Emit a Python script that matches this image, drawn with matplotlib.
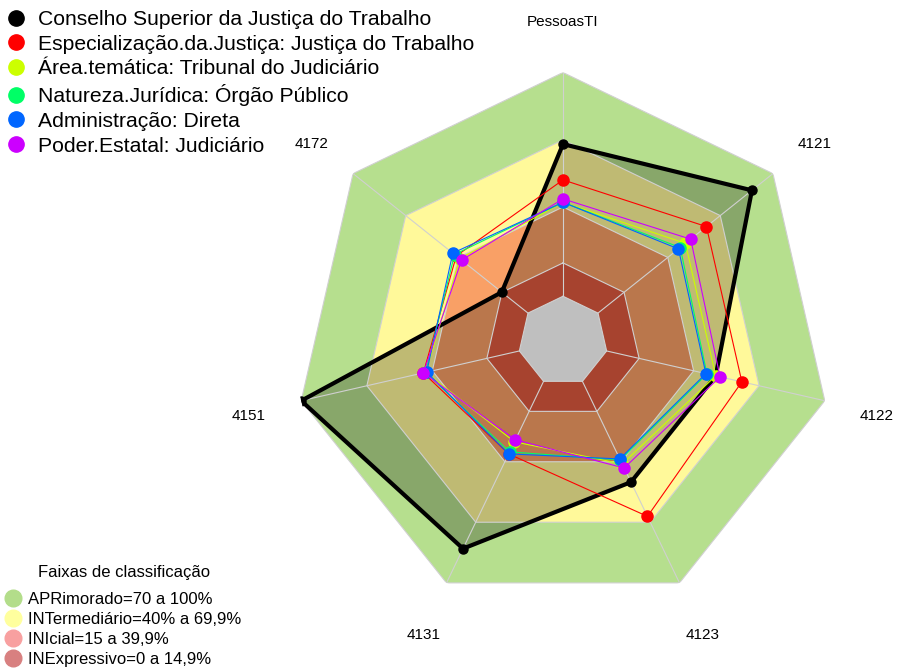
import numpy as np
import matplotlib
matplotlib.use("Agg")
from matplotlib import pyplot as plt
from matplotlib import transforms
from matplotlib.lines import Line2D

plt.rcParams["font.family"] = ["Liberation Sans", "DejaVu Sans"]

# eixos do radar, no sentido horario a partir do topo
eixos = ["PessoasTI", "4121", "4122", "4123", "4131", "4151", "4172"]

nomes_series = [
    "Conselho Superior da Justiça do Trabalho",
    "Especialização.da.Justiça: Justiça do Trabalho",
    "Área.temática: Tribunal do Judiciário",
    "Natureza.Jurídica: Órgão Público",
    "Administração: Direta",
    "Poder.Estatal: Judiciário",
]
conselho = [68, 88, 50, 50, 83, 100, 15]
especializacao = [52, 62, 62, 67, 36, 44, 41]
area_tematica = [42, 50, 50, 41, 30, 43, 39]
natureza = [42, 47, 46, 39, 35, 43, 42]
administracao = [42, 46, 45.5, 38.5, 36, 42.5, 43]
poder = [43.5, 53, 52, 43, 29, 44, 38]
cores_series = ["#000000", "#FF0000", "#CCFF00", "#00FF66", "#0066FF", "#CC00FF"]

# faixas de classificacao
faixas_nomes = [
    "APRimorado=70 a 100%",
    "INTermediário=40% a 69,9%",
    "INIcial=15 a 39,9%",
    "INExpressivo=0 a 14,9%",
]
faixas_limites = [100, 69.9, 39.9, 14.9]
faixas_cores_fundo = ["#B6DF8E", "#FFF99A", "#F9A066", "#E05A40"]
faixas_cores_legenda = ["#B3DD8A", "#FFFF9E", "#F8A0A0", "#D88080"]

fig = plt.figure(figsize=(8.97, 6.68), dpi=100)
ax = fig.add_axes([294.5 / 897, 58.5 / 668, 537 / 897, 537 / 668], projection="polar")
ax.set_theta_zero_location("N")
ax.set_theta_direction(-1)
# centro vazio: o valor 0 fica a 1/6 do raio
ax.set_ylim(-20, 100)
ax.axis("off")

n = len(eixos)
theta = np.arange(n) * 2 * np.pi / n
theta_f = np.append(theta, theta[0])


def fechar(valores):
    return np.append(valores, valores[0])


# fundo das faixas
for lim, cor in zip(faixas_limites, faixas_cores_fundo):
    ax.fill(theta_f, [lim] * (n + 1), color=cor, lw=0, zorder=1)
ax.fill(theta_f, [0] * (n + 1), color="white", lw=0, zorder=1)

# area do conselho escurecida
ax.fill(theta_f, fechar(conselho), color="black", alpha=0.25, lw=0, zorder=2)

# linhas de grade
for lim in faixas_limites + [0]:
    ax.plot(theta_f, [lim] * (n + 1), color="#d0d0d0", lw=0.8, zorder=3)
for t in theta:
    ax.plot([t, t], [0, 100], color="#d0d0d0", lw=0.8, zorder=3)

dados = [conselho, especializacao, area_tematica, natureza, administracao, poder]
for i, (vals, cor) in enumerate(zip(dados, cores_series)):
    if i == 0:
        ax.plot(theta_f, fechar(vals), color=cor, lw=3, zorder=4)
        ax.plot(theta, vals, "o", color=cor, ms=6.5, zorder=4)
    else:
        ax.plot(theta_f, fechar(vals), color=cor, lw=0.8, zorder=5 + i)
        ax.plot(theta, vals, "o", color=cor, ms=8, zorder=5 + i)

trans_rot = transforms.offset_copy(ax.transData, fig=fig, x=0, y=-2, units="dots")
for t, rotulo in zip(theta, eixos):
    ax.text(t, 124, rotulo, ha="center", va="center_baseline", fontsize=11,
            clip_on=False, transform=trans_rot)

# legenda das series
h_series = [Line2D([], [], ls="none", marker="o", ms=11, color=c) for c in cores_series]
fig.legend(
    h_series,
    nomes_series,
    loc="upper left",
    bbox_to_anchor=(8 / 897, 1 - 10 / 668),
    frameon=False,
    fontsize=15.2,
    borderaxespad=0,
    borderpad=0,
    handlelength=0.8,
    handletextpad=0.62,
    labelspacing=0.27,
)

# legenda das faixas
fig.text(124 / 897, 1 - 572 / 668, "Faixas de classificação", ha="center", va="center",
         fontsize=12)
h_faixas = [Line2D([], [], ls="none", marker="o", ms=12, color=c) for c in faixas_cores_legenda]
fig.legend(
    h_faixas,
    faixas_nomes,
    loc="lower left",
    bbox_to_anchor=(6 / 897, 1 / 668),
    frameon=False,
    fontsize=12,
    borderaxespad=0,
    borderpad=0,
    handlelength=0.8,
    handletextpad=0.5,
    labelspacing=0.31,
)

fig.savefig("out.png", dpi=100)
